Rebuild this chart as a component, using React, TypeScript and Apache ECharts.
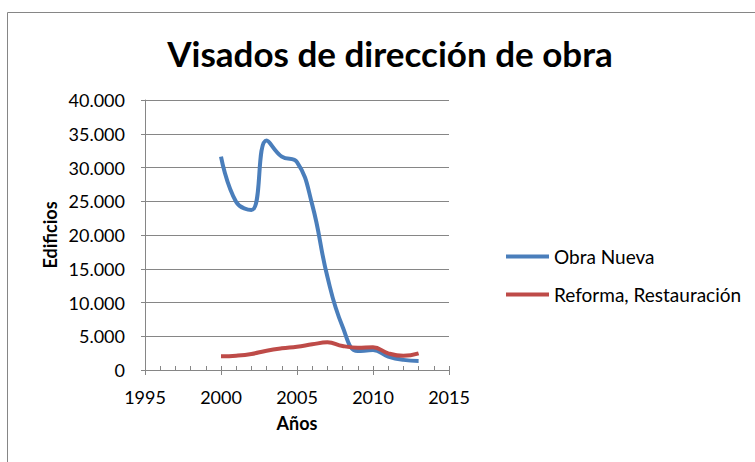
import React, { useEffect, useRef } from "react";
import * as echarts from "echarts";

const years = [2000, 2001, 2002, 2003, 2004, 2005, 2006, 2007, 2008, 2009, 2010, 2011, 2012, 2013];
const obraNueva = [31600, 24900, 23700, 34000, 31600, 30800, 24500, 13800, 6400, 2800, 2950, 2000, 1500, 1330];
const reforma = [2030, 2120, 2370, 2860, 3210, 3460, 3800, 4100, 3550, 3310, 3360, 2470, 2100, 2470];
const seriesNames = ["Obra Nueva", "Reforma, Restauración"];
const titleText = "Visados de dirección de obra";
const yName = "Edificios";
const xName = "Años";

const FONT = "Lato";
const GRAY = "#868686";

const fmt = (v: number) => {
  const s = Math.round(v).toString();
  return s.replace(/\B(?=(\d{3})+(?!\d))/g, ".");
};

export default function App() {
  const ref = useRef<HTMLDivElement>(null);
  useEffect(() => {
    if (!ref.current) return;
    const chart = echarts.init(ref.current, undefined, { renderer: "svg" });
    chart.setOption({
      animation: false,
      backgroundColor: "#fff",
      textStyle: { fontFamily: FONT },
      title: {
        text: titleText,
        left: 385,
        top: 30,
        textAlign: "center",
        textStyle: { fontFamily: FONT, fontWeight: "bold", fontSize: 35, color: "#000" },
      },
      graphic: [
        {
          type: "rect",
          shape: { x: 7.5, y: 12.5, width: 1000, height: 1000 },
          style: { fill: "none", stroke: GRAY, lineWidth: 1 },
          silent: true,
        },
      ],
      legend: {
        orient: "vertical",
        left: 501,
        top: 242,
        itemWidth: 43,
        itemHeight: 4,
        itemGap: 19,
        itemStyle: { borderWidth: 0 },
        icon: "rect",
        textStyle: { fontFamily: FONT, fontSize: 19, color: "#000" },
        data: seriesNames,
      },
      grid: { left: 145, right: 306, top: 100, bottom: 92, containLabel: false },
      xAxis: [
        {
          type: "value",
          min: 1995,
          max: 2015,
          interval: 5,
          name: xName,
          nameLocation: "middle",
          nameGap: 44,
          nameTextStyle: { fontFamily: FONT, fontWeight: "bold", fontSize: 18, color: "#000" },
          axisLine: { show: true, lineStyle: { color: GRAY, width: 1 } },
          axisTick: { show: true, inside: false, length: 5, lineStyle: { color: GRAY } },
          axisLabel: { fontFamily: FONT, fontSize: 18, color: "#000", margin: 18, formatter: (v: number) => String(v) },
          splitLine: { show: false },
        },
        {
          type: "value",
          min: 1995,
          max: 2015,
          interval: 1,
          position: "bottom",
          axisLine: { show: false },
          axisTick: { show: true, inside: true, length: 4, lineStyle: { color: GRAY } },
          axisLabel: { show: false },
          splitLine: { show: false },
        },
      ],
      yAxis: {
        type: "value",
        min: 0,
        max: 40000,
        interval: 5000,
        name: yName,
        nameLocation: "middle",
        nameGap: 86,
        nameTextStyle: { fontFamily: FONT, fontWeight: "bold", fontSize: 18, color: "#000" },
        axisLine: { show: true, lineStyle: { color: GRAY, width: 1 } },
        axisTick: { show: true, inside: false, length: 4, lineStyle: { color: GRAY } },
        axisLabel: { fontFamily: FONT, fontSize: 18, color: "#000", margin: 20, formatter: (v: number) => fmt(v) },
        splitLine: { show: true, lineStyle: { color: GRAY, width: 1 } },
      },
      series: [
        {
          name: seriesNames[0],
          type: "line",
          smooth: 0.45,
          showSymbol: false,
          symbol: "none",
          color: "#4A7EBB",
          lineStyle: { width: 4, color: "#4A7EBB" },
          data: years.map((y, i) => [y, obraNueva[i]]),
        },
        {
          name: seriesNames[1],
          type: "line",
          smooth: 0.45,
          showSymbol: false,
          symbol: "none",
          color: "#BE4B48",
          lineStyle: { width: 4, color: "#BE4B48" },
          data: years.map((y, i) => [y, reforma[i]]),
        },
      ],
    });
    return () => chart.dispose();
  }, []);
  return <div ref={ref} style={{ width: 755, height: 462, position: "absolute", left: 0, top: 0 }} />;
}
